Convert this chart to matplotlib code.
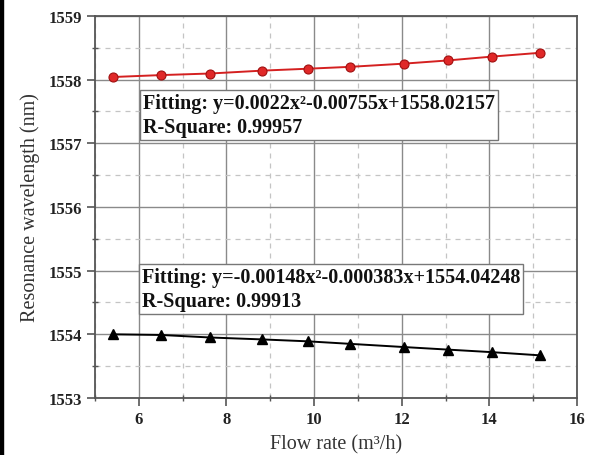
import numpy as np
import matplotlib
matplotlib.use("Agg")
import matplotlib.pyplot as plt
from matplotlib.ticker import MultipleLocator
from matplotlib.patches import Rectangle

# flow rate (m3/h) and resonance wavelength (nm) for the two peaks
flow = [5.41, 6.50, 7.63, 8.81, 9.85, 10.83, 12.05, 13.05, 14.05, 15.15]
peak_hi = [1558.04, 1558.07, 1558.095, 1558.14, 1558.17, 1558.20, 1558.25, 1558.30, 1558.36, 1558.42]
peak_lo = [1554.00, 1553.99, 1553.95, 1553.92, 1553.89, 1553.85, 1553.80, 1553.76, 1553.72, 1553.67]

fit_hi = ["Fitting: y=0.0022x\u00b2-0.00755x+1558.02157", "R-Square: 0.99957"]
fit_lo = ["Fitting: y=-0.00148x\u00b2-0.000383x+1554.04248", "R-Square: 0.99913"]

plt.rcParams['font.family'] = ['Liberation Serif', 'DejaVu Serif']

fig = plt.figure(figsize=(5.9, 4.56), dpi=100)
ax = fig.add_axes([0.161, 0.125, 0.817, 0.838])

ax.plot(flow, peak_hi, color='#d42020', lw=1.4, marker='o', ms=6.5,
        mfc='#e02828', mec='#a01010', mew=0.8, zorder=4)
ax.plot(flow, peak_lo, color='black', lw=1.4, marker='^', ms=7,
        mfc='black', mec='black', zorder=4)

ax.set_xlim(5, 16)
ax.set_ylim(1553, 1559)
ax.xaxis.set_major_locator(MultipleLocator(2))
ax.xaxis.set_minor_locator(MultipleLocator(1))
ax.yaxis.set_major_locator(MultipleLocator(1))
ax.yaxis.set_minor_locator(MultipleLocator(0.5))

ax.grid(which='major', color='#8a8a8a', lw=1.0, ls='-')
ax.grid(which='minor', color='#c4c4c4', lw=0.9, ls=(0, (4, 4)))
ax.set_axisbelow(True)

for s in ax.spines.values():
    s.set_color('#555555')
    s.set_linewidth(1.3)
ax.tick_params(which='major', direction='out', length=6, width=1.2, color='#555555',
               labelsize=12, labelcolor='#222222', top=False, right=False)
ax.tick_params(which='minor', direction='inout', length=5, width=1.0, color='#555555',
               top=False, right=False)
ax.set_xticks([6, 8, 10, 12, 14, 16])
for lab in ax.get_xticklabels() + ax.get_yticklabels():
    lab.set_fontweight('bold')

ax.set_xlabel('Flow rate (m\u00b3/h)', fontsize=14.5, color='#333333', labelpad=5)
ax.set_ylabel('Resonance wavelength (nm)', fontsize=14.5, color='#333333', labelpad=6)

box = dict(boxstyle='square,pad=0.15', fc='white', ec='#777777', lw=1.0)
ax.text(6.09, 1557.79, '\n'.join(fit_hi), fontsize=14.5, fontweight='bold',
        va='top', ha='left', linespacing=1.25, bbox=box, zorder=5, color='#111111')
ax.text(6.07, 1555.06, '\n'.join(fit_lo), fontsize=14.5, fontweight='bold',
        va='top', ha='left', linespacing=1.25, bbox=box, zorder=5, color='#111111')

# thin frame line down the left edge of the figure
fig.patches.append(Rectangle((0, 0), 0.005, 1, transform=fig.transFigure,
                             color='black', zorder=10))

fig.savefig('out.png', dpi=100)
